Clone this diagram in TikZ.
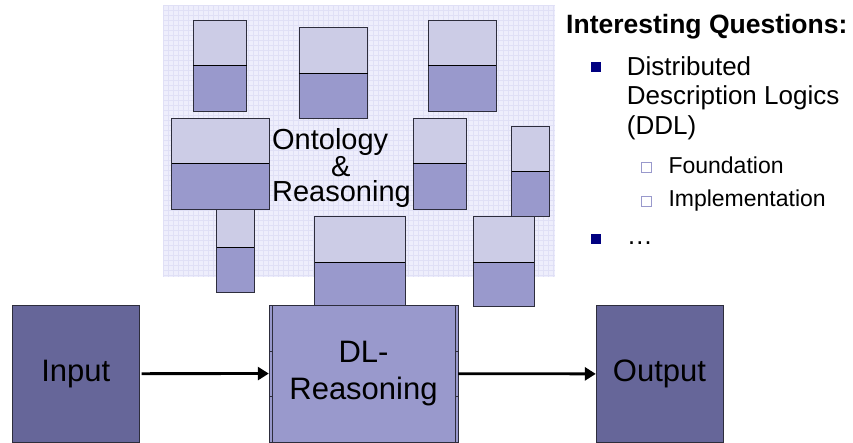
\documentclass[tikz,border=0pt]{standalone}
\usepackage{fontspec}
\setmainfont{Liberation Sans}
\usetikzlibrary{arrows.meta}

\definecolor{ontolight}{RGB}{204,204,230}
\definecolor{ontodark}{RGB}{153,153,204}
\definecolor{iobox}{RGB}{102,102,153}
\definecolor{gridfill}{RGB}{238,238,252}
\definecolor{gridline}{RGB}{224,224,246}
\definecolor{edgecol}{RGB}{45,45,60}
\definecolor{bulletblue}{RGB}{0,0,128}

\begin{document}
\begin{tikzpicture}[x=1pt,y=-1pt,
    iobox/.style={draw=edgecol,fill=iobox,inner sep=0pt,minimum width=127pt,minimum height=137pt,
      font=\fontsize{31}{37}\selectfont},
    reasoner/.style={draw=edgecol,fill=ontodark,inner sep=0pt,minimum height=137pt},
    flow/.style={line width=2.8pt,-{Triangle[length=11pt,width=13pt]}},
    bigtext/.style={inner sep=0pt,font=\fontsize{29}{24.5}\selectfont},
    headline/.style={anchor=base west,inner sep=0pt,font=\fontsize{26.5}{30}\selectfont\bfseries},
    itemone/.style={anchor=base west,inner sep=0pt,font=\fontsize{26}{30}\selectfont},
    itemtwo/.style={anchor=base west,inner sep=0pt,font=\fontsize{23}{28}\selectfont},
    fullbullet/.style={fill=bulletblue,inner sep=0pt,minimum size=10pt},
    openbullet/.style={draw=ontodark,fill=white,inner sep=0pt,minimum size=10pt}]

  \useasboundingbox (0,0) rectangle (853,443);

  % grid paper behind the ontologies
  \fill[gridfill] (163,5) rectangle (555,277);
  \foreach \gx in {163,168,...,555}
    \draw[gridline,line width=0.4pt] (\gx,5) -- (\gx,277);
  \foreach \gy in {5,10,...,277}
    \draw[gridline,line width=0.4pt] (163,\gy) -- (555,\gy);

  % ontologies: x1/y1/x2/y2/split
  \foreach \xa/\ya/\xb/\yb/\ym in {193.3/20/246.7/111/65.7, 299.3/27.7/367.7/118.3/73,
      428.3/20/496/111/65.7, 171.7/118.3/269.3/209.3/163.7, 413.3/118.3/466/209.3/163.7,
      511.7/126/549.3/216.7/171.3, 216.7/209.3/254.3/292/247,
      314.7/216.7/405.3/308/262.3, 473.3/216.7/534/306.7/262.3}{
    \fill[ontolight] (\xa,\ya) rectangle (\xb,\ym);
    \fill[ontodark] (\xa,\ym) rectangle (\xb,\yb);
    \draw[edgecol,line width=0.8pt] (\xa,\ya) rectangle (\xb,\yb);
    \draw[black,line width=0.8pt] (\xa,\ym) -- (\xb,\ym);
  }

  \node[bigtext,align=left] (onto) at (341.5,168)
    {Ontology\\\hspace*{59pt}\&\\Reasoning};

  % pipeline
  \node[iobox] (input) at (75.8,373.7) {Input};
  \node[iobox] (output) at (659.5,374) {Output};
  \node[reasoner,minimum width=189pt] (dl) at (363.5,373.5) {};
  \draw[edgecol,line width=0.6pt] (269,351) -- (458,351) (269,396) -- (458,396);
  \node[reasoner,minimum width=183pt,align=center,font=\fontsize{31}{37}\selectfont]
    (dlfront) at (dl.center) {DL-\\Reasoning};

  \draw[flow,shorten <=2pt] (input) -- (dl);
  \draw[flow] (dl) -- (output);

  % questions
  \node[headline] (quest) at (566,34) {Interesting Questions:};
  \node[fullbullet] (b1) at (596,67) {};
  \node[itemone] (ddla) at (626.7,75.5) {Distributed};
  \node[itemone] (ddlb) at (626.7,105) {Description Logics};
  \node[itemone] (ddlc) at (626.7,134.5) {(DDL)};
  \node[openbullet] (s1) at (645.8,167.5) {};
  \node[itemtwo] (found) at (668.3,173.3) {Foundation};
  \node[openbullet] (s2) at (645.8,200.9) {};
  \node[itemtwo] (impl) at (668.3,206.7) {Implementation};
  \node[fullbullet] (b2) at (596,239.5) {};
  \node[itemone] (more) at (626.7,245) {…};

\end{tikzpicture}
\end{document}
